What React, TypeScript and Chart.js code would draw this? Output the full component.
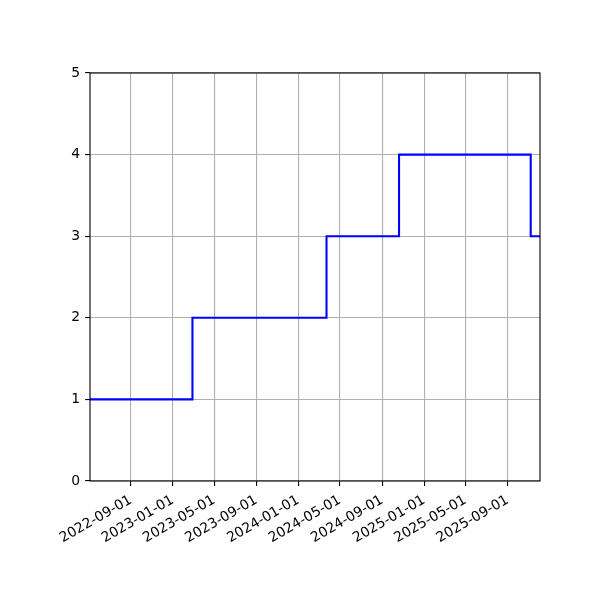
import React, { useEffect, useRef } from 'react';
import { Chart, registerables } from 'chart.js';

Chart.register(...registerables);

// Step change dates and the value that holds from each date on
const stepDates = ['2022-05-05', '2023-02-27', '2024-03-23', '2024-10-20', '2025-11-07', '2025-12-04'];
const stepValues = [1, 2, 3, 4, 3, 3];

// x tick labels (every 4 months)
const tickDates = [
  '2022-09-01', '2023-01-01', '2023-05-01', '2023-09-01', '2024-01-01',
  '2024-05-01', '2024-09-01', '2025-01-01', '2025-05-01', '2025-09-01',
];
const yTicks = [0, 1, 2, 3, 4, 5];

const toMs = (s: string) => {
  const [y, m, d] = s.split('-').map(Number);
  return Date.UTC(y, m - 1, d);
};
const fmt = (ms: number) => new Date(ms).toISOString().slice(0, 10);

const FONT = { family: '"DejaVu Sans", sans-serif', size: 13.9 };

// black frame around the plot area (all four spines)
const framePlugin = {
  id: 'frame',
  afterDatasetsDraw(chart: Chart) {
    const { ctx, chartArea } = chart;
    ctx.save();
    ctx.strokeStyle = '#000';
    ctx.lineWidth = 1.1;
    ctx.strokeRect(chartArea.left, chartArea.top, chartArea.right - chartArea.left, chartArea.bottom - chartArea.top);
    ctx.restore();
  },
};

export default function App() {
  const canvasRef = useRef<HTMLCanvasElement | null>(null);

  useEffect(() => {
    document.body.style.margin = '0';
    if (!canvasRef.current) return;
    const xs = stepDates.map(toMs);

    const chart = new Chart(canvasRef.current, {
      type: 'line',
      data: {
        datasets: [
          {
            data: xs.map((x, i) => ({ x, y: stepValues[i] })),
            borderColor: '#0000ff',
            borderWidth: 2.08,
            pointRadius: 0,
            stepped: 'before',
            fill: false,
          },
        ],
      },
      plugins: [framePlugin],
      options: {
        animation: false,
        responsive: false,
        maintainAspectRatio: false,
        layout: { padding: { left: 0, top: 73, right: 60, bottom: 0 } },
        plugins: { legend: { display: false }, tooltip: { enabled: false } },
        scales: {
          x: {
            type: 'linear',
            min: xs[0],
            max: xs[xs.length - 1],
            afterBuildTicks: (scale: any) => {
              scale.ticks = tickDates.map(d => ({ value: toMs(d) }));
            },
            afterFit: (scale: any) => {
              scale.height = 119;
            },
            grid: {
              color: '#b0b0b0',
              lineWidth: 1.1,
              tickColor: '#000',
              tickLength: 4.9,
              tickWidth: 1.1,
            },
            border: { display: false },
            ticks: {
              color: '#000',
              font: FONT,
              padding: 6,
              minRotation: 30,
              maxRotation: 30,
              autoSkip: false,
              callback: (v: any) => fmt(Number(v)),
            },
          },
          y: {
            type: 'linear',
            min: yTicks[0],
            max: yTicks[yTicks.length - 1],
            afterBuildTicks: (scale: any) => {
              scale.ticks = yTicks.map(v => ({ value: v }));
            },
            afterFit: (scale: any) => {
              scale.width = 90;
            },
            grid: {
              color: '#b0b0b0',
              lineWidth: 1.1,
              tickColor: '#000',
              tickLength: 4.9,
              tickWidth: 1.1,
            },
            border: { display: false },
            ticks: {
              color: '#000',
              font: FONT,
              padding: 5,
              callback: (v: any) => String(v),
            },
          },
        },
      },
    });

    return () => chart.destroy();
  }, []);

  return (
    <div style={{ width: 600, height: 600, background: '#fff' }}>
      <canvas ref={canvasRef} width={600} height={600} style={{ width: 600, height: 600 }} />
    </div>
  );
}
